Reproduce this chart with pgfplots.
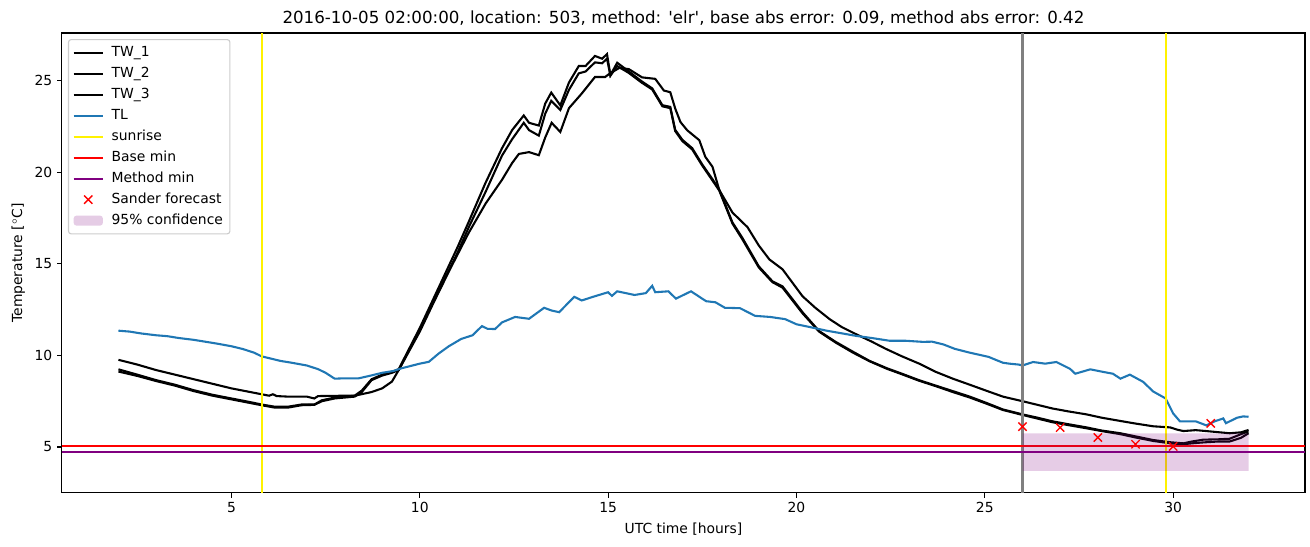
\documentclass[border=0pt]{standalone}
\usepackage{fontspec}
\setmainfont{DejaVu Sans}
\newfontfamily\dejavu{DejaVu Sans}
\usepackage{pgfplots}
\pgfplotsset{compat=1.18}
\definecolor{tlblue}{HTML}{1F77B4}
\definecolor{mpurple}{HTML}{800080}
\definecolor{legframe}{HTML}{CCCCCC}
\pgfplotsset{
  lineleg/.style={legend image code/.code={\draw[##1] (0pt,0pt) -- (21pt,0pt);}},
  markleg/.style={legend image code/.code={\draw[##1] plot coordinates {(10.5pt,0pt)};}},
  arealeg/.style={legend image code/.code={\fill[##1] (0pt,-3.6pt) rectangle (21pt,3.6pt);}},
}

\pgfplotstableread{
x y
2.0 9.76
2.5 9.5
3.0 9.2
3.5 8.95
4.0 8.7
4.5 8.45
5.0 8.2
5.5 8.0
5.8 7.88
6.0 7.8
6.1 7.88
6.2 7.78
6.5 7.75
7.0 7.75
7.2 7.65
7.3 7.78
8.0 7.8
8.27 7.8
8.72 8.0
9.0 8.2
9.26 8.57
9.44 9.2
10.0 11.3
10.37 12.9
10.8 14.7
11.3 16.7
11.75 18.3
12.18 19.58
12.45 20.5
12.63 21.0
12.9 21.1
13.16 20.93
13.33 21.9
13.5 22.7
13.73 22.2
13.96 23.5
14.3 24.3
14.65 25.2
14.92 25.2
15.05 25.4
15.3 25.7
15.55 25.63
15.9 25.18
16.25 25.1
16.48 24.46
16.65 24.37
16.78 23.48
16.92 22.74
17.1 22.29
17.42 21.75
17.58 20.84
17.77 20.3
17.95 19.03
18.3 17.8
18.7 17.0
19.0 16.0
19.28 15.24
19.63 14.7
20.16 13.23
20.5 12.6
20.88 11.98
21.2 11.55
21.57 11.17
22.0 10.75
22.37 10.36
22.8 9.95
23.27 9.54
23.7 9.1
24.15 8.73
24.6 8.4
25.03 8.08
25.48 7.75
26.0 7.5
26.4 7.3
26.8 7.1
27.2 6.95
27.7 6.78
28.1 6.6
28.6 6.42
29.0 6.28
29.47 6.13
29.92 6.07
30.1 5.95
30.27 5.87
30.6 5.92
30.98 5.85
31.5 5.75
31.8 5.8
32.0 5.93
}\twone

\pgfplotstableread{
x y
2.0 9.24
2.5 8.95
3.0 8.65
3.5 8.4
4.0 8.1
4.5 7.85
5.0 7.65
5.5 7.45
5.8 7.32
6.15 7.2
6.5 7.2
6.86 7.32
7.2 7.32
7.4 7.55
7.74 7.7
8.27 7.8
8.46 8.08
8.72 8.7
9.0 8.95
9.26 9.1
9.44 9.25
10.0 11.5
10.5 13.7
11.0 15.9
11.3 17.3
11.74 19.4
12.18 21.3
12.45 22.3
12.76 23.1
12.9 22.7
13.16 22.55
13.33 23.75
13.49 24.35
13.73 23.65
13.96 24.9
14.22 25.8
14.4 25.8
14.65 26.35
14.84 26.2
14.97 26.45
15.06 25.3
15.24 25.98
15.55 25.5
15.9 24.95
16.17 24.58
16.44 23.66
16.65 23.57
16.78 22.32
16.97 21.77
17.23 21.32
17.5 20.42
17.77 19.62
17.95 19.05
18.3 17.26
18.56 16.43
19.0 14.86
19.36 14.05
19.63 13.77
20.16 12.36
20.6 11.33
21.04 10.74
21.5 10.2
21.94 9.7
22.4 9.3
22.8 9.0
23.25 8.65
23.7 8.35
24.15 8.05
24.6 7.75
25.05 7.4
25.48 7.05
26.0 6.78
26.4 6.6
26.8 6.4
27.2 6.25
27.7 6.07
28.1 5.9
28.6 5.75
29.0 5.58
29.47 5.38
29.92 5.26
30.27 5.2
30.5 5.3
30.8 5.4
31.2 5.42
31.5 5.45
31.8 5.7
32.0 5.85
}\twtwo

\pgfplotstableread{
x y
2.0 9.12
2.5 8.88
3.0 8.6
3.5 8.35
4.0 8.05
4.5 7.8
5.0 7.6
5.5 7.4
5.8 7.28
6.15 7.15
6.5 7.15
6.86 7.28
7.2 7.3
7.4 7.5
7.74 7.65
8.27 7.75
8.46 8.0
8.72 8.65
9.0 8.9
9.26 9.05
9.44 9.2
10.0 11.4
10.5 13.5
11.0 15.6
11.3 17.0
11.74 18.9
12.18 20.9
12.45 21.8
12.76 22.7
12.9 22.3
13.16 22.0
13.33 23.2
13.49 23.9
13.73 23.4
13.96 24.5
14.22 25.4
14.4 25.5
14.65 26.0
14.84 25.95
14.97 26.2
15.06 25.27
15.24 25.8
15.55 25.42
15.9 24.88
16.17 24.52
16.44 23.6
16.65 23.5
16.78 22.25
16.97 21.7
17.23 21.25
17.5 20.36
17.77 19.55
17.95 19.0
18.3 17.2
18.56 16.35
19.0 14.8
19.36 14.0
19.63 13.7
20.16 12.3
20.6 11.3
21.04 10.7
21.5 10.15
21.94 9.68
22.4 9.27
22.8 8.97
23.25 8.62
23.7 8.32
24.15 8.0
24.6 7.7
25.05 7.36
25.48 7.02
26.0 6.75
26.4 6.55
26.8 6.35
27.2 6.2
27.7 6.02
28.1 5.87
28.6 5.7
29.0 5.52
29.47 5.33
29.92 5.2
30.27 5.15
30.5 5.2
30.8 5.25
31.2 5.3
31.5 5.3
31.8 5.5
32.0 5.75
}\twthree

\pgfplotstableread{
x y
2.0 11.35
2.3 11.3
2.6 11.2
2.8 11.15
3.0 11.1
3.3 11.05
3.6 10.95
4.0 10.85
4.3 10.75
4.6 10.65
5.0 10.5
5.3 10.35
5.6 10.15
5.8 9.95
6.0 9.85
6.3 9.7
6.6 9.6
7.0 9.45
7.3 9.25
7.5 9.05
7.74 8.73
8.0 8.75
8.38 8.75
8.7 8.9
9.0 9.05
9.3 9.15
9.52 9.3
10.0 9.55
10.24 9.65
10.5 10.1
10.77 10.5
11.1 10.9
11.4 11.1
11.65 11.6
11.8 11.45
12.0 11.44
12.18 11.8
12.53 12.1
12.9 12.0
13.1 12.3
13.3 12.6
13.5 12.45
13.7 12.36
14.1 13.2
14.3 13.0
14.6 13.2
15.0 13.45
15.1 13.25
15.24 13.5
15.7 13.3
16.0 13.4
16.17 13.8
16.25 13.45
16.6 13.5
16.8 13.1
17.2 13.5
17.6 12.96
17.85 12.9
18.1 12.6
18.5 12.58
18.9 12.16
19.3 12.1
19.7 11.98
20.0 11.7
20.35 11.55
20.8 11.35
21.3 11.17
21.6 11.06
22.0 10.95
22.47 10.8
22.9 10.8
23.35 10.74
23.6 10.75
23.9 10.6
24.2 10.36
24.6 10.15
25.1 9.92
25.3 9.75
25.48 9.6
25.65 9.55
25.9 9.5
26.0 9.45
26.28 9.64
26.6 9.55
26.9 9.64
27.26 9.27
27.4 9.0
27.8 9.24
28.14 9.1
28.4 9.0
28.6 8.73
28.85 8.95
29.2 8.56
29.47 8.03
29.8 7.65
30.0 6.83
30.18 6.4
30.6 6.4
30.88 6.18
31.1 6.4
31.33 6.56
31.4 6.3
31.7 6.6
31.86 6.67
32.0 6.65
}\tl

\pgfplotstableread{
x y
26 6.11
27 6.06
28 5.52
29 5.15
30 5.03
31 6.29
}\sander

\begin{document}
\begin{tikzpicture}
\begin{axis}[
  scale only axis, width=895pt, height=331pt,
  xmin=0.5, xmax=33.5, ymin=2.5, ymax=27.6,
  xtick={5,10,15,20,25,30}, ytick={5,10,15,20,25},
  xtick pos=bottom, ytick pos=left,
  tick align=outside, major tick length=3.5pt,
  every tick/.style={line width=0.8pt, black},
  axis line style={line width=0.8pt},
  /pgf/number format/assume math mode=true,
  ticklabel style={font=\fontsize{10}{12}\selectfont},
  label style={font=\fontsize{10}{12}\selectfont},
  xlabel={UTC time [hours]}, ylabel={Temperature [$^\circ$C]},
  title={{\dejavu 2016-10-05 02:00:00, location: 503, method: 'elr', base abs error: 0.09, method abs error: 0.42}},
  title style={font=\fontsize{12}{14}\selectfont, yshift=-4pt},
  legend cell align=left,
  legend style={at={(0,1)}, anchor=north west, xshift=4.3pt, yshift=-4.3pt,
    draw=legframe, line width=0.8pt, rounded corners=2pt, fill=white, fill opacity=0.8, text opacity=1,
    font=\fontsize{10}{12}\selectfont, row sep=0pt, inner xsep=3pt, inner ysep=2pt,
    nodes={text height=7.5pt, text depth=2.5pt, inner ysep=2.55pt},
    /tikz/every odd column/.append style={column sep=3.6pt}},
  lineleg,
]
\addplot[black, line width=1.5pt] table {\twone};
\addlegendentry{TW\_1}
\addplot[black, line width=1.5pt] table {\twtwo};
\addlegendentry{TW\_2}
\addplot[black, line width=1.5pt] table {\twthree};
\addlegendentry{TW\_3}
\addplot[tlblue, line width=1.5pt] table {\tl};
\addlegendentry{TL}
\addplot[yellow, line width=1.5pt] coordinates {(5.8,2.5) (5.8,27.6)};
\addlegendentry{sunrise}
\addplot[yellow, line width=1.5pt, forget plot] coordinates {(29.8,2.5) (29.8,27.6)};
\addplot[gray, line width=1.5pt, forget plot] coordinates {(26.0,2.5) (26.0,27.6)};
\addplot[red, line width=1.5pt] coordinates {(0.5,5.05) (33.5,5.05)};
\addlegendentry{Base min}
\addplot[mpurple, line width=1.5pt] coordinates {(0.5,4.72) (33.5,4.72)};
\addlegendentry{Method min}
\addplot[only marks, red, mark=x, mark size=4.2pt, mark options={line width=1pt}, markleg] table {\sander};
\addlegendentry{Sander forecast}
\addplot[draw=none, fill=mpurple, fill opacity=0.2, arealeg]
  coordinates {(26,3.7) (32,3.7) (32,5.75) (26,5.75) (26,3.7)};
\addlegendentry{95\% confidence}
\end{axis}
\pgfresetboundingbox
\path ([shift={(-44.6pt,-38.9pt)}]current axis.south west) rectangle ([shift={(3.6pt,23.8pt)}]current axis.north east);
\end{tikzpicture}
\end{document}
